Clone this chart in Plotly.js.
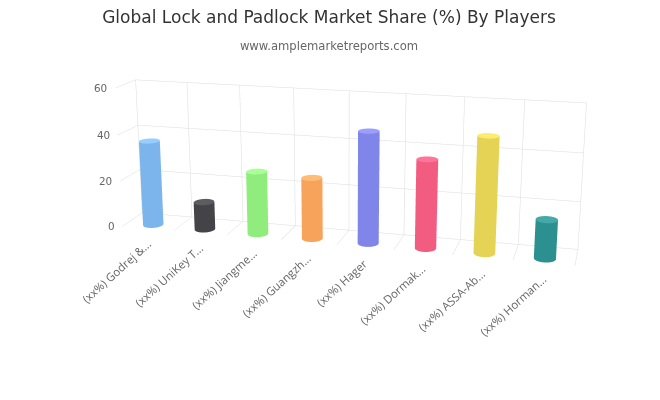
<!DOCTYPE html>
<html><head><meta charset="utf-8"><script src="https://cdn.plot.ly/plotly-3.0.1.min.js"></script>
<style>html,body{margin:0;padding:0;background:#fff;overflow:hidden}#w{position:relative;width:660px;height:400px;overflow:hidden}#c{position:absolute;left:0;top:-288px;width:686px;height:911px}</style></head>
<body><div id="w"><div id="c"></div></div><script>
const categories=["(xx%) Godrej &...","(xx%) UniKey T...","(xx%) Jiangme...","(xx%) Guangzh...","(xx%) Hager","(xx%) Dormak...","(xx%) ASSA-Ab...","(xx%) Horman..."];
const values=[37,12,27,26,47,37,48,16];
const colors=["#7cb5ec","#434348","#90ed7d","#f7a35c","#8085e9","#f15c80","#e4d354","#2b908f"];
const topColors=["#95ceff","#5c5c61","#a9ff96","#ffbc75","#999eff","#ff7599","#fdec6d","#44a9a8"];
const zTicks=[0,20,40,60];
const N=32, rx=0.18, ry=0.24, cy=0.26;
const traces=categories.map((c,i)=>{
  const xs=[],ys=[],zs=[],I=[],J=[],K=[],fc=[];
  for(let k=0;k<N;k++){const a=2*Math.PI*k/N;
    xs.push(i+rx*Math.cos(a),i+rx*Math.cos(a));
    ys.push(cy+ry*Math.sin(a),cy+ry*Math.sin(a));
    zs.push(0,values[i]);}
  for(let k=0;k<N;k++){const n=(k+1)%N;
    I.push(2*k,2*n);J.push(2*n,2*n+1);K.push(2*k+1,2*k+1);fc.push(colors[i],colors[i]);}
  xs.push(i);ys.push(cy);zs.push(values[i]);const t=2*N;
  for(let k=0;k<N;k++){I.push(t);J.push(2*k+1);K.push(2*((k+1)%N)+1);fc.push(topColors[i]);}
  xs.push(i);ys.push(cy);zs.push(0);const b=2*N+1;
  for(let k=0;k<N;k++){I.push(b);J.push(2*k);K.push(2*((k+1)%N));fc.push(colors[i]);}
  return {type:'mesh3d',x:xs,y:ys,z:zs,i:I,j:J,k:K,facecolor:fc,flatshading:true,showscale:false,hoverinfo:'skip',
    lighting:{ambient:1,diffuse:0,specular:0,roughness:1,fresnel:0}};
});
const labelFont={family:'"Open Sans"',size:11.4,color:'#666'};
const tickFont={family:'"DejaVu Sans"',size:10.4,color:'#666'};
const annotations=categories.map((c,i)=>({x:i,y:0,z:0,text:c,showarrow:false,textangle:-42,xanchor:'right',yanchor:'top',yshift:-6,xshift:8,font:labelFont}))
 .concat(zTicks.map(v=>({x:-0.5,y:0,z:v,text:String(v),showarrow:false,xanchor:'right',yanchor:'middle',xshift:-6,font:tickFont})));
const ax={showspikes:false,showbackground:false,title:{text:''},showticklabels:false,zeroline:false,showline:false,ticks:'',gridcolor:'#dcdcdc',gridwidth:1};
const layout={width:686,height:911,margin:{l:0,r:0,t:0,b:0},paper_bgcolor:'#fff',showlegend:false,
 title:{text:'Global Lock and Padlock Market Share (%) By Players',x:329/686,xanchor:'center',y:1-305/911,yanchor:'middle',font:{family:'"DejaVu Sans"',size:17,color:'#333'},
   subtitle:{text:'www.amplemarketreports.com',font:{family:'"DejaVu Sans"',size:11.6,color:'#666'}}},
 scene:{domain:{x:[0,1],y:[0,1]},dragmode:false,aspectmode:'manual',aspectratio:{x:3.33,y:0.34,z:1.05},
  camera:{projection:{type:'perspective'},up:{x:0,y:0,z:1},center:{x:0,y:0,z:0},eye:{x:1.965,y:-7.33,z:2.03}},
  xaxis:Object.assign({},ax,{range:[-0.5,7.5],tickmode:'linear',tick0:-0.5,dtick:1}),
  yaxis:Object.assign({},ax,{range:[0,1],showgrid:false}),
  zaxis:Object.assign({},ax,{range:[0,60],tickmode:'array',tickvals:zTicks}),
  annotations:annotations}};
Plotly.newPlot('c',traces,layout,{displayModeBar:false});
</script></body></html>
